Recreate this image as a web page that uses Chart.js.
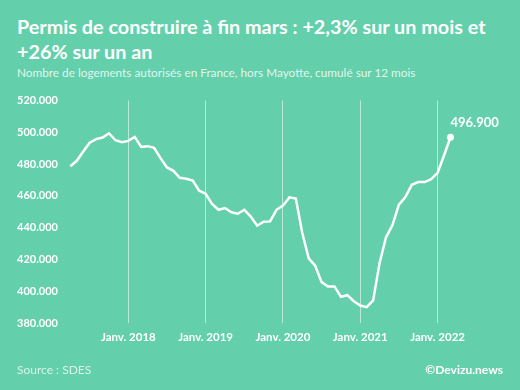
<!DOCTYPE html>
<html lang="fr">
<head>
<meta charset="utf-8">
<script src="https://cdn.jsdelivr.net/npm/chart.js@4"></script>
<style>
  html, body { margin: 0; padding: 0; }
  body { width: 520px; height: 390px; background: #63d0ab; position: relative; overflow: hidden; font-family: Lato, sans-serif; color: #fff; }
  #chart { position: absolute; left: 0; top: 0; }
  .title { position: absolute; left: 17px; top: 14px; width: 500px; font-size: 19.8px; font-weight: 700; line-height: 25px; }
  .subtitle { position: absolute; left: 17px; top: 65px; font-size: 11.8px; color: rgba(255,255,255,0.82); }
  .source { position: absolute; left: 17px; top: 362px; font-size: 12px; color: rgba(255,255,255,0.75); }
  .credit { position: absolute; right: 17px; top: 362px; font-size: 12px; font-weight: 700; }
</style>
</head>
<body>
<div class="title">Permis de construire à fin mars : +2,3% sur un mois et<br>+26% sur un an</div>
<div class="subtitle">Nombre de logements autorisés en France, hors Mayotte, cumulé sur 12 mois</div>
<canvas id="chart" width="520" height="390"></canvas>
<div class="source">Source : SDES</div>
<div class="credit">©Devizu.news</div>

<script>
// mois d'avril 2017 à mars 2022
const months = [
  '2017-04','2017-05','2017-06','2017-07','2017-08','2017-09','2017-10','2017-11','2017-12',
  '2018-01','2018-02','2018-03','2018-04','2018-05','2018-06','2018-07','2018-08','2018-09','2018-10','2018-11','2018-12',
  '2019-01','2019-02','2019-03','2019-04','2019-05','2019-06','2019-07','2019-08','2019-09','2019-10','2019-11','2019-12',
  '2020-01','2020-02','2020-03','2020-04','2020-05','2020-06','2020-07','2020-08','2020-09','2020-10','2020-11','2020-12',
  '2021-01','2021-02','2021-03','2021-04','2021-05','2021-06','2021-07','2021-08','2021-09','2021-10','2021-11','2021-12',
  '2022-01','2022-02','2022-03'
];

// logements autorisés, cumul 12 mois
const permits = [
  478700, 482100, 487900, 493500, 495700, 496700, 499400, 495000, 493800,
  494600, 497100, 490800, 491300, 490200, 483800, 477900, 475800, 471400, 470800, 469700, 463300,
  461400, 454900, 451300, 452400, 449700, 448800, 451300, 447000, 441300, 443800, 444000, 451300,
  453900, 459100, 458400, 436700, 420800, 416200, 405800, 403100, 403100, 396600, 397600, 393800,
  391100, 390100, 394300, 417900, 434000, 441700, 454500, 459300, 467000, 468700, 468700, 470600,
  474500, 485400, 496900
];

const xTickMonths = ['2018-01', '2019-01', '2020-01', '2021-01', '2022-01'];
const xTickLabels = ['Janv. 2018', 'Janv. 2019', 'Janv. 2020', 'Janv. 2021', 'Janv. 2022'];

const lastLabel = '496.900';

const fmt = v => v.toLocaleString('de-DE');
const lastIdx = permits.length - 1;

const endLabel = {
  id: 'endLabel',
  afterDatasetsDraw(chart) {
    const pt = chart.getDatasetMeta(0).data[lastIdx];
    const c = chart.ctx;
    c.save();
    c.font = 'bold 13px Lato';
    c.fillStyle = '#fff';
    c.textAlign = 'left';
    c.textBaseline = 'middle';
    c.fillText(lastLabel, pt.x, pt.y - 14);
    c.restore();
  }
};

new Chart(document.getElementById('chart'), {
  type: 'line',
  data: {
    datasets: [{
      data: permits.map((v, i) => ({ x: i, y: v })),
      borderColor: '#fff',
      borderWidth: 2.5,
      tension: 0,
      pointRadius: ctx => ctx.dataIndex === lastIdx ? 3.5 : 0,
      pointBackgroundColor: '#fff',
      pointBorderWidth: 0
    }]
  },
  options: {
    responsive: false,
    animation: false,
    layout: { padding: { top: 100.5, left: 17, right: 18, bottom: 39 } },
    plugins: { legend: { display: false }, tooltip: { enabled: false } },
    scales: {
      x: {
        type: 'linear',
        min: -1,
        max: 67,
        afterBuildTicks: axis => {
          axis.ticks = xTickMonths.map(m => ({ value: months.indexOf(m) }));
        },
        ticks: {
          color: '#fff',
          font: { family: 'Lato', size: 11.5, weight: 'bold' },
          padding: 7,
          maxRotation: 0,
          autoSkip: false,
          callback: v => xTickLabels[xTickMonths.indexOf(months[v])]
        },
        grid: { color: 'rgba(255,255,255,0.55)', lineWidth: 1, drawTicks: false },
        border: { display: false }
      },
      y: {
        min: 380000,
        max: 520000,
        ticks: {
          stepSize: 20000,
          color: '#fff',
          font: { family: 'Lato', size: 11, weight: 'bold' },
          padding: 3,
          crossAlign: 'far',
          callback: v => fmt(v)
        },
        grid: { display: false, drawTicks: false },
        border: { display: false }
      }
    }
  },
  plugins: [endLabel]
});
</script>
</body>
</html>
